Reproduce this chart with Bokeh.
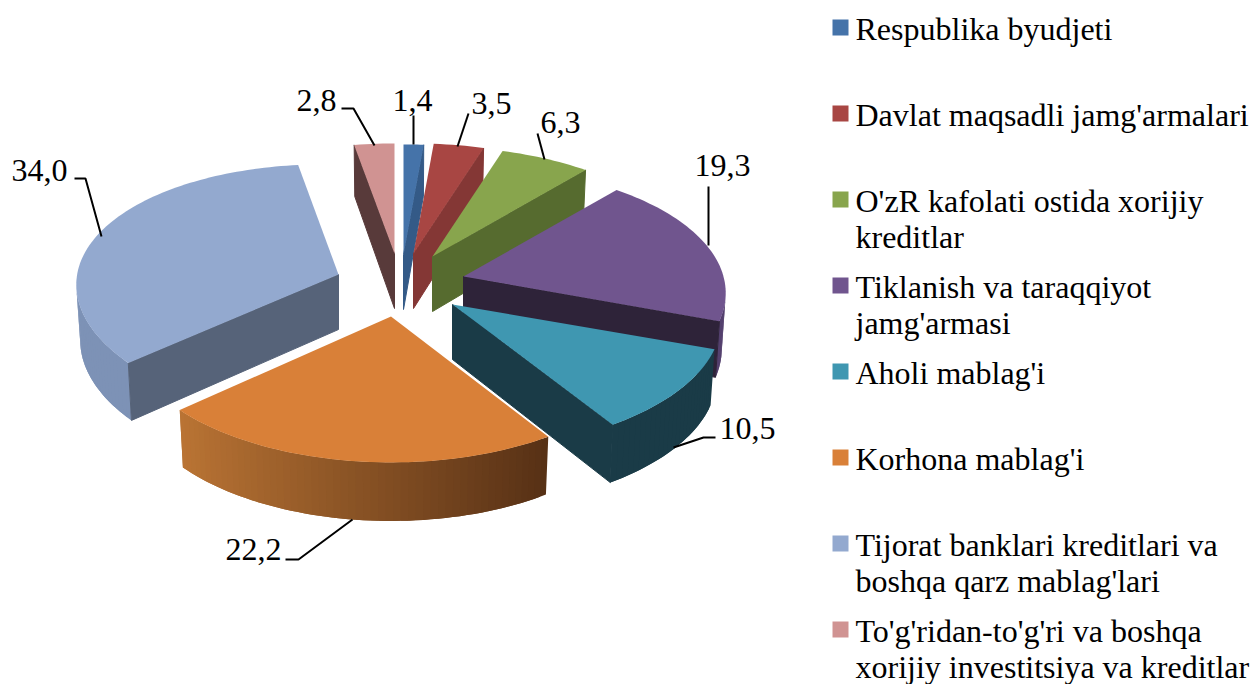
import math
from bokeh.plotting import figure
from bokeh.models import ColumnDataSource, Range1d
from bokeh.core.properties import value
from bokeh.embed import file_html
from bokeh.resources import INLINE

# ---- data ----
categories = ["Respublika byudjeti", "Davlat maqsadli jamg'armalari",
              "O'zR kafolati ostida xorijiy\nkreditlar", "Tiklanish va taraqqiyot\njamg'armasi",
              "Aholi mablag'i", "Korhona mablag'i",
              "Tijorat banklari kreditlari va\nboshqa qarz mablag'lari",
              "To'g'ridan-to'g'ri va boshqa\nxorijiy investitsiya va kreditlar"]
shares = [1.4, 3.5, 6.3, 19.3, 10.5, 22.2, 34.0, 2.8]
share_labels = ["1,4", "3,5", "6,3", "19,3", "10,5", "22,2", "34,0", "2,8"]

# ---- styles / layout ----
top_colors = ["#4573A9", "#A84643", "#88A54D", "#70558E", "#3F97B1", "#D98038", "#93A9CF", "#D09392"]
cut_colors = ["#345A87", "#843735", "#566B2F", "#2E2339", "#1A3B47", "#583215", "#566379", "#583A3A"]
rim_light = [(52, 90, 135), (132, 55, 53), (86, 107, 47), (84, 64, 110), (26, 59, 71), (186, 116, 52), (125, 146, 182), (88, 58, 58)]
rim_dark = [(52, 90, 135), (132, 55, 53), (86, 107, 47), (84, 64, 110), (26, 59, 71), (86, 48, 21), (125, 146, 182), (88, 58, 58)]
centres = [(403, 254), (413, 253), (432, 256), (463, 276), (452, 304), (390.5, 316), (338, 274), (394, 253)]
x_scale = [1, 1, 1, 1, 1.024, 1.005, 1, 1]
shear = [0, 0, 0, 0, 0, 0, 0.024, 0]
draw_order = [7, 0, 1, 2, 3, 4, 6, 5]
AX, BY, KX, KY, SHRINK = 260.0, 125.5, 0.13, 0.14, 0.985

label_pos = [(412, 100), (491, 103), (560, 122), (722, 165), (747, 428), (253, 549), (39, 170), (316, 100)]
leaders = [[(413, 115), (413, 144)], [(468, 113), (457, 146)], [(537, 133), (544, 159)],
           [(708, 186), (708, 245)], [(715, 437), (703, 437), (673, 447)],
           [(285, 559), (298, 559), (352, 519)], [(74, 178), (85, 178), (101, 236)],
           [(341, 108), (353, 108), (374, 145)]]
legend_baselines = [39, 125, 211, 297, 383, 469, 555, 641]
LINE_GAP = 36


def project(t, c, i):
    u, v = math.sin(t), math.cos(t)
    dx = x_scale[i] * AX * u / (1 + KX * v)
    return c[0] + dx, c[1] - BY * v / (1 + KY * v) + shear[i] * dx


def lower(p, t, c):
    return c[0] + SHRINK * (p[0] - c[0]), p[1] + 55 - 3.5 * math.cos(t)


def area(poly):
    return sum(poly[i][0] * poly[(i + 1) % len(poly)][1] - poly[(i + 1) % len(poly)][0] * poly[i][1]
               for i in range(len(poly)))


def hexmix(a, b, f):
    return "#%02x%02x%02x" % tuple(int(round(a[i] + (b[i] - a[i]) * f)) for i in range(3))


polys = []


def add(poly, col, stroke=0.0):
    polys.append((poly, col, stroke))


starts = []
acc = 0.0
total = sum(shares)
for s in shares:
    starts.append(acc)
    acc += s

for i in draw_order:
    c = centres[i]
    t0 = 2 * math.pi * starts[i] / total
    t1 = 2 * math.pi * (starts[i] + shares[i]) / total
    n = max(6, int((t1 - t0) / 0.025))
    ts = [t0 + (t1 - t0) * k / n for k in range(n + 1)]
    tops = [project(t, c, i) for t in ts]
    bots = [lower(p, t, c) for p, t in zip(tops, ts)]
    ab = (c[0], c[1] + 55)
    # the rim, shaded from left to right; each strip overlaps the next to avoid seams
    for k in range(n):
        q = [tops[k], tops[k + 1], bots[k + 1], bots[k]]
        if area(q) < 0:
            u = math.sin((ts[k] + ts[k + 1]) / 2)
            f = min(1, max(0, (u + 0.74) / 1.28))
            e = min(k + 2, n)
            q2 = [tops[k], tops[k + 1], tops[e], bots[e], bots[k + 1], bots[k]]
            add(q2, hexmix(rim_light[i], rim_dark[i], f))
    # the two flat cut faces, only when they face the viewer
    face0 = [c, tops[0], bots[0], ab]
    face1 = [c, ab, bots[-1], tops[-1]]
    if area(face0) < 0:
        add(face0, cut_colors[i], 1.0)
    if area(face1) < 0:
        add(face1, cut_colors[i], 1.0)
    add([c] + tops, top_colors[i])

src = ColumnDataSource(dict(xs=[[q[0] for q in p] for p, _, _ in polys],
                            ys=[[q[1] for q in p] for p, _, _ in polys],
                            col=[c for _, c, _ in polys],
                            stroke=[a for _, _, a in polys]))

p = figure(width=1250, height=684, output_backend="svg", toolbar_location=None,
           x_range=Range1d(0, 1250), y_range=Range1d(684, 0), min_border=0)
p.axis.visible = False
p.grid.visible = False
p.outline_line_color = None
p.background_fill_color = "white"
p.border_fill_color = "white"

p.patches("xs", "ys", source=src, fill_color="col", line_color="col", line_alpha="stroke", line_width=1)

for seg in leaders:
    p.line([q[0] for q in seg], [q[1] for q in seg], line_color="black", line_width=2)

p.text([q[0] for q in label_pos], [q[1] for q in label_pos], text=share_labels,
       text_font=value("Liberation Serif"), text_font_size="32px", text_color="black",
       text_align="center", text_baseline="middle")

lx, ly, lt = [], [], []
for cat, base in zip(categories, legend_baselines):
    for j, line in enumerate(cat.split("\n")):
        lx.append(855)
        ly.append(base - 11 + j * LINE_GAP)
        lt.append(line)
p.text(lx, ly, text=lt, text_font=value("Liberation Serif"), text_font_size="32px",
       text_color="black", text_align="left", text_baseline="middle")
p.quad(left=[832] * 8, right=[848] * 8,
       top=[b - 20 for b in legend_baselines], bottom=[b - 4 for b in legend_baselines],
       fill_color=top_colors, line_color=None)

open("out.html", "w").write(file_html(p, INLINE))
